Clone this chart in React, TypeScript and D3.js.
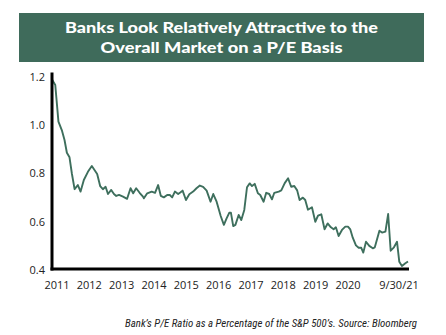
import React from "react";
import * as d3 from "d3";

const titleLines = ["Banks Look Relatively Attractive to the", "Overall Market on a P/E Basis"];
const titleWidths = [313, 242];
const caption = "Bank’s P/E Ratio as a Percentage of the S&P 500’s. Source: Bloomberg";

const dates = [
  "2011-01-01","2011-02-06","2011-03-13","2011-04-19","2011-05-19","2011-06-14","2011-07-13","2011-08-08",
  "2011-09-07","2011-10-13","2011-11-12","2011-12-18","2012-02-01","2012-03-15","2012-05-13","2012-06-15",
  "2012-07-15","2012-08-14","2012-09-09","2012-10-15","2012-11-14","2012-12-09","2013-01-09","2013-02-22",
  "2013-04-08","2013-05-16","2013-06-14","2013-07-17","2013-08-24","2013-09-30","2013-10-10","2013-11-16",
  "2014-01-04","2014-02-10","2014-03-16","2014-04-15","2014-05-18","2014-06-24","2014-07-23","2014-08-18",
  "2014-09-17","2014-10-23","2014-11-19","2014-12-11","2015-01-17","2015-02-23","2015-04-06","2015-05-13",
  "2015-06-19","2015-07-25","2015-09-02","2015-10-15","2015-11-14","2015-12-21","2016-02-04","2016-03-10",
  "2016-04-09","2016-05-08","2016-05-27","2016-06-21","2016-07-15","2016-08-20","2016-09-18","2016-10-21",
  "2016-11-20","2016-12-20","2017-01-14","2017-02-13","2017-03-20","2017-04-15","2017-05-22","2017-06-20",
  "2017-07-23","2017-08-22","2017-09-17","2017-11-05","2017-12-03","2018-01-10","2018-02-16","2018-03-22",
  "2018-04-25","2018-05-27","2018-06-23","2018-07-29","2018-08-24","2018-09-23","2018-11-06","2018-12-13",
  "2019-01-12","2019-02-17","2019-03-25","2019-04-28","2019-06-03","2019-07-03","2019-07-28","2019-08-27",
  "2019-10-03","2019-11-09","2019-12-08","2020-01-03","2020-01-30","2020-03-05","2020-04-04","2020-05-03",
  "2020-05-25","2020-06-24","2020-07-30","2020-09-07","2020-09-29","2020-11-19","2020-12-18","2021-01-24",
  "2021-02-23","2021-03-23","2021-04-28","2021-06-01","2021-06-26","2021-07-25","2021-09-01","2021-09-30",
];

const ratios = [
  1.19,1.167,1.015,0.98,0.939,0.886,0.867,0.80,
  0.735,0.752,0.725,0.773,0.807,0.831,0.798,0.748,
  0.735,0.745,0.715,0.732,0.715,0.707,0.711,0.704,
  0.695,0.739,0.718,0.739,0.72,0.704,0.697,0.718,
  0.725,0.72,0.752,0.707,0.701,0.711,0.711,0.701,
  0.725,0.715,0.722,0.729,0.69,0.714,0.725,0.739,
  0.75,0.745,0.729,0.683,0.715,0.683,0.624,0.587,
  0.614,0.637,0.637,0.582,0.587,0.628,0.607,0.649,
  0.743,0.759,0.748,0.757,0.718,0.711,0.683,0.72,
  0.715,0.693,0.72,0.725,0.73,0.76,0.78,0.745,
  0.748,0.73,0.69,0.70,0.69,0.65,0.66,0.60,
  0.625,0.631,0.569,0.593,0.577,0.569,0.577,0.541,
  0.566,0.58,0.58,0.568,0.534,0.502,0.492,0.492,
  0.472,0.517,0.50,0.49,0.494,0.563,0.555,0.559,
  0.632,0.48,0.494,0.517,0.434,0.417,0.428,0.435,
];

const yTicks = [0.4, 0.6, 0.8, 1.0, 1.2];
const yTickLabels = ["0.4", "0.6", "0.8", "1.0", "1.2"];
const xTickLabels = ["2011","2012","2013","2014","2015","2016","2017","2018","2019","2020"];
const lastLabel = "9/30/21";

const GREEN = "#3f6b5b";
const LINE = "#3e6f5d";

export default function App() {
  const W = 446, H = 335;
  const parse = d3.timeParse("%Y-%m-%d");
  const data = dates.map((d, i) => ({ date: parse(d) as Date, v: ratios[i] }));

  const x = d3.scaleTime()
    .domain([data[0].date, data[data.length - 1].date])
    .range([52, 408]);
  const y = d3.scaleLinear().domain([0.4, 1.2]).range([270, 77]);
  const xLab = d3.scalePoint<string>().domain(xTickLabels).range([57, 348]);

  const line = d3.line<{ date: Date; v: number }>()
    .x(d => x(d.date))
    .y(d => y(d.v))
    .curve(d3.curveLinear);

  const tickFont = "'Segoe UI', 'Open Sans', 'Liberation Sans', Arial, sans-serif";

  return (
    <svg width={W} height={H} style={{ position: "absolute", left: 0, top: 0, background: "#fff" }}>
      <rect x={19} y={13} width={405} height={49} fill={GREEN} />
      {titleLines.map((t, i) => (
        <text key={i} x={221.5} y={33 + i * 20} textAnchor="middle" fill="#fff"
          fontFamily="Lato, 'Open Sans', sans-serif" fontWeight={900} fontSize={15.5}
          textLength={titleWidths[i]} lengthAdjust="spacingAndGlyphs">
          {t}
        </text>
      ))}

      <path d={line(data) || ""} fill="none" stroke={LINE} strokeWidth={1.9} strokeLinejoin="round" />

      <line x1={52} x2={52} y1={72.5} y2={270.5} stroke="#000" strokeWidth={3} />
      <line x1={50.5} x2={409} y1={269} y2={269} stroke="#000" strokeWidth={3} />

      {yTicks.map((t, i) => (
        <text key={t} x={45} y={y(t)} dy="0.35em" textAnchor="end" fill="#222"
          fontFamily={tickFont} fontSize={11}>
          {yTickLabels[i]}
        </text>
      ))}
      {xTickLabels.map(t => (
        <text key={t} x={xLab(t)} y={289} textAnchor="middle" fill="#222"
          fontFamily={tickFont} fontSize={11}>
          {t}
        </text>
      ))}
      <text x={x(data[data.length - 1].date) - 9} y={289} textAnchor="middle" fill="#222"
        fontFamily={tickFont} fontSize={11}>
        {lastLabel}
      </text>

      <text x={417} y={327} textAnchor="end" fill="#222" fontStyle="italic"
        fontFamily="'Liberation Sans Narrow', 'Roboto Condensed', Roboto, sans-serif" fontSize={10.5}
        textLength={292} lengthAdjust="spacingAndGlyphs">
        {caption}
      </text>
    </svg>
  );
}
